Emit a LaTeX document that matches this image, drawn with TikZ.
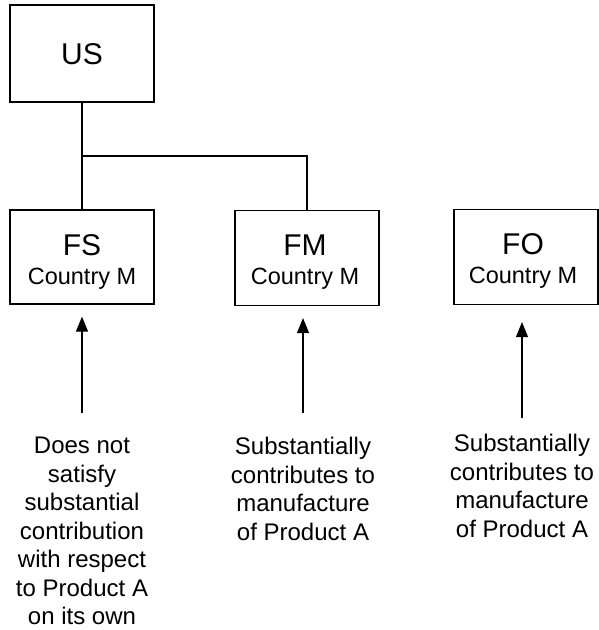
\documentclass[tikz,border=0pt]{standalone}
\usepackage{fontspec}
\setmainfont{Liberation Sans}
\usetikzlibrary{arrows.meta}
\begin{document}
\begin{tikzpicture}[x=1pt,y=-1pt,
  box/.style={draw, line width=1.2pt, minimum width=144pt, inner sep=0pt},
  ttl/.style={font=\fontsize{30}{34}\selectfont, anchor=base, inner sep=0pt},
  sub/.style={font=\fontsize{23.5}{28}\selectfont, anchor=base, inner sep=0pt},
  lbl/.style={font=\fontsize{24}{28.5}\selectfont, align=center, anchor=north, inner sep=0pt},
  conn/.style={line width=1.2pt},
  arr/.style={line width=1.2pt, -{Triangle[width=12pt,length=15pt]}}]
\useasboundingbox (0,0) rectangle (599,630);
% boxes
\node[box, minimum height=97pt] (us) at (82,53.5) {};
\node[ttl] (ust) at (82,64) {US};
\node[box, minimum height=94pt] (fs) at (82,257) {};
\node[ttl] (fst) at (82,255) {FS};
\node[sub] (fss) at (82,284) {Country M};
\node[box, minimum height=95pt] (fm) at (307,258) {};
\node[ttl] (fmt) at (305,255) {FM};
\node[sub] (fms) at (305,284) {Country M};
\node[box, minimum height=95pt] (fo) at (526,257) {};
\node[ttl] (fot) at (523,254) {FO};
\node[sub] (fos) at (523,283) {Country M};
% connectors
\coordinate (j) at (82,156);
\draw[conn] (us.south) -- (fs.north);
\draw[conn] (j) -| (fm.north);
% labels
\node[lbl] (fsl) at (82,437) {Does not\\satisfy\\substantial\\contribution\\with respect\\to Product A\\on its own};
\node[lbl] (fml) at (303,437) {Substantially\\contributes to\\manufacture\\of Product A};
\node[lbl] (fol) at (522,434) {Substantially\\contributes to\\manufacture\\of Product A};
% arrows
\draw[arr] ([yshift=24pt]fsl.north) -- ([yshift=-12pt]fs.south);
\draw[arr] ([yshift=24pt]fml.north) -- ([yshift=-12pt]fml.north |- fm.south);
\draw[arr] ([yshift=16pt]fol.north) -- ([yshift=-17pt]fol.north |- fo.south);
\end{tikzpicture}
\end{document}
